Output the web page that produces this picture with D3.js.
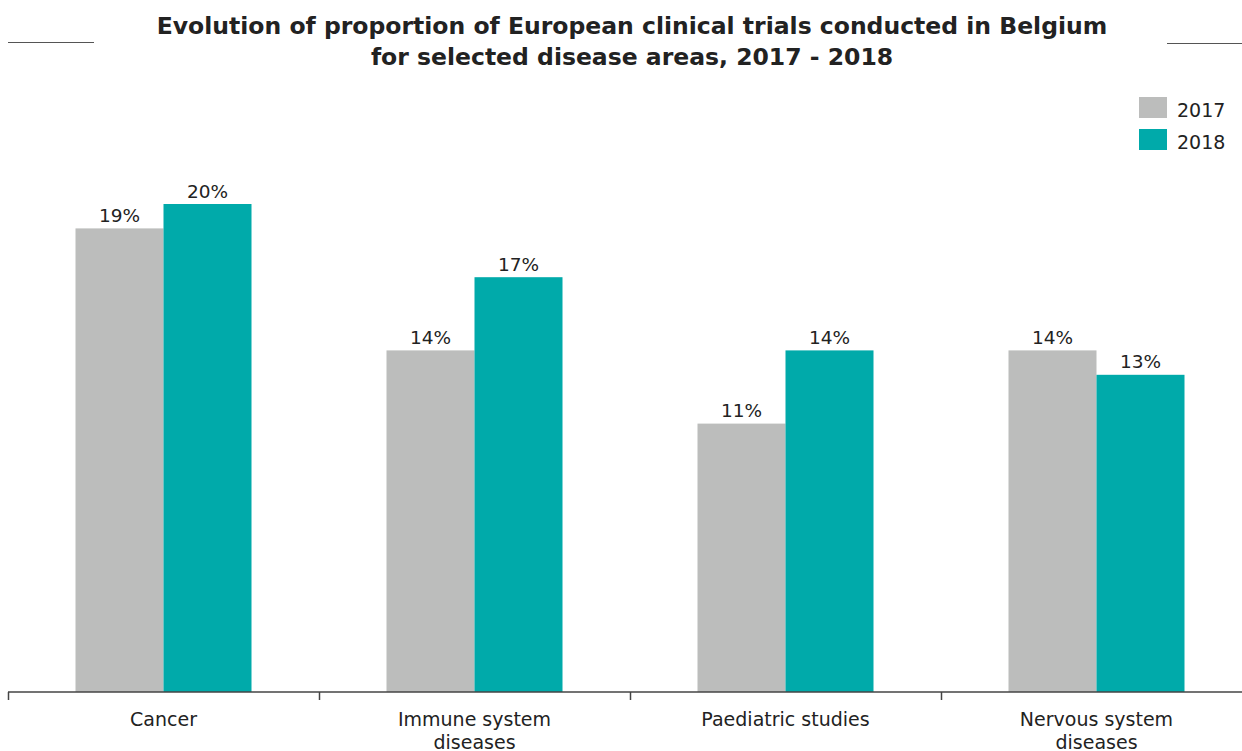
<!DOCTYPE html>
<html><head><meta charset="utf-8">
<script src="https://cdn.jsdelivr.net/npm/d3@7"></script>
<style>body{margin:0;background:#fff}svg{display:block}</style>
</head><body>
<svg id="chart" width="1242" height="751"></svg>
<script>
const categories = [["Cancer"], ["Immune system", "diseases"], ["Paediatric studies"], ["Nervous system", "diseases"]];
const seriesNames = ["2017", "2018"];
const values2017 = [19, 14, 11, 14];
const values2018 = [20, 17, 14, 13];
const titleLines = ["Evolution of proportion of European clinical  trials  conducted in  Belgium", "for selected disease areas, 2017 - 2018"];

const colors = ["#bcbdbc", "#00aaaa"];
const font = "Verdana, 'DejaVu Sans', sans-serif";
const svg = d3.select("#chart");
const W = 1242, H = 751;
const base = 692;

const x = d3.scaleBand().domain(d3.range(categories.length)).range([8, 1252]).paddingInner(0).paddingOuter(0);
const y = d3.scaleLinear().domain([0, 20]).range([base, 204]);
const inner = d3.scaleBand().domain(seriesNames).range([0, 176]);

// Title
const title = svg.append("text").attr("text-anchor", "middle").attr("font-family", font)
  .attr("font-weight", "bold").attr("font-size", 23.5).attr("fill", "#222");
titleLines.forEach((t, i) => title.append("tspan").attr("x", 632).attr("y", 34 + i * 30.5).text(t));
svg.append("line").attr("x1", 8).attr("x2", 94).attr("y1", 42.5).attr("y2", 42.5).attr("stroke", "#555").attr("stroke-width", 1.2);
svg.append("line").attr("x1", 1167).attr("x2", 1242).attr("y1", 43.5).attr("y2", 43.5).attr("stroke", "#555").attr("stroke-width", 1.2);

// Bars
const data = categories.map((c, i) => ({i, vals: [values2017[i], values2018[i]]}));
const g = svg.append("g");
data.forEach(d => {
  const x0 = x(d.i) + x.bandwidth() / 2 - 88;
  d.vals.forEach((v, j) => {
    const s = seriesNames[j];
    g.append("rect").attr("x", x0 + inner(s)).attr("y", y(v)).attr("width", inner.bandwidth())
      .attr("height", base - y(v)).attr("fill", colors[j]);
    g.append("text").attr("x", x0 + inner(s) + inner.bandwidth() / 2).attr("y", y(v) - 6.5)
      .attr("text-anchor", "middle").attr("font-family", font).attr("font-size", 18.5).attr("fill", "#222")
      .text(v + "%");
  });
});

// Axis
const axis = d3.axisBottom(x).tickSize(0).tickFormat("");
const ag = svg.append("g").attr("transform", `translate(0,${base})`).call(axis);
ag.select(".domain").remove();
svg.append("line").attr("x1", 8).attr("x2", 1242).attr("y1", base).attr("y2", base).attr("stroke", "#444").attr("stroke-width", 1.5);
const tickX = d3.range(categories.length).map(i => x(i)).filter(v => v <= W);
svg.selectAll(".tk").data(tickX).enter().append("line").attr("x1", d => d + 0.5).attr("x2", d => d + 0.5)
  .attr("y1", base).attr("y2", base + 8).attr("stroke", "#444").attr("stroke-width", 1.5);

categories.forEach((c, i) => {
  const t = svg.append("text").attr("text-anchor", "middle").attr("font-family", font).attr("font-size", 19).attr("fill", "#222");
  c.forEach((line, k) => t.append("tspan").attr("x", x(i) + x.bandwidth() / 2).attr("y", 726 + k * 23).text(line));
});

// Legend
seriesNames.forEach((s, j) => {
  svg.append("rect").attr("x", 1139).attr("y", 97 + j * 32).attr("width", 28).attr("height", 21).attr("fill", colors[j]);
  svg.append("text").attr("x", 1177).attr("y", 117 + j * 31.5).attr("font-family", font).attr("font-size", 19)
    .attr("fill", "#222").text(s);
});
</script>
</body></html>
